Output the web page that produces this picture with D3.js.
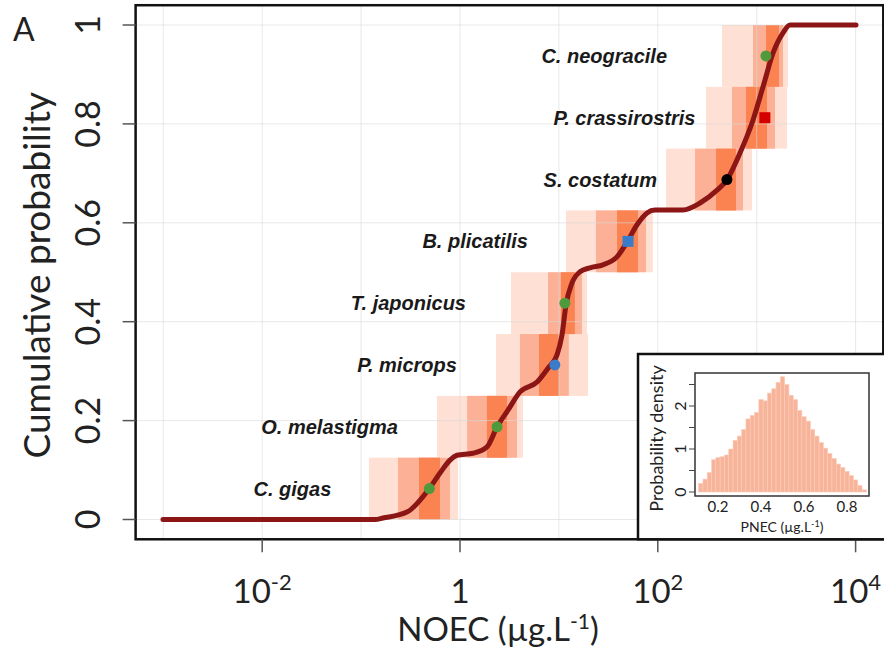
<!DOCTYPE html>
<html><head><meta charset="utf-8">
<script src="https://cdn.jsdelivr.net/npm/d3@7"></script>
<style>body{margin:0;background:#fff} svg{display:block}</style>
</head><body><svg id="c" width="884" height="650"></svg>
<script>
// ---------- data ----------
const species = ["C. gigas","O. melastigma","P. microps","T. japonicus","B. plicatilis","S. costatum","P. crassirostris","C. neogracile"];
const noec = [0.49, 2.37, 9.1, 11.5, 50, 500, 1210, 1240];
const cumProb = [0.0625, 0.1875, 0.3125, 0.4375, 0.5625, 0.6875, 0.8125, 0.9375];
const markerShape = ["circle","circle","circle","circle","square","circle","square","circle"];
const markerColor = ["#4f9a3c","#4f9a3c","#3a7cc9","#4f9a3c","#3a7cc9","#000000","#d40000","#4f9a3c"];
// nested intervals around each species (outer / middle / inner), NOEC units
const ciOuter = [[0.12,0.955],[0.585,4.34],[2.31,19.7],[3.28,19.2],[11.8,89],[121,896],[307,2024],[446,2073]];
const ciMiddle = [[0.236,0.792],[1.18,3.77],[4.04,12.6],[7.76,17.1],[23.7,76],[238,727],[563,1531],[918,1845]];
const ciInner = [[0.385,0.628],[1.87,2.99],[6.29,10.0],[10.5,14.5],[38.7,63],[388,617],[780,1271],[1242,1680]];
// label end anchors (NOEC units)
const labelNoec = [0.05, 0.236, 0.93, 1.15, 4.87, 98, 240, 124];
// fitted SSD curve
const curveLog10 = [-3.003,-0.859,-0.779,-0.536,-0.313,-0.202,-0.101,-0.030,0.131,0.273,0.374,0.485,0.607,0.779,0.890,0.981,1.031,1.072,1.132,1.213,1.314,1.446,1.587,1.689,1.790,1.891,1.972,2.255,2.427,2.599,2.700,2.831,2.963,3.064,3.165,3.266,3.337,4.004];
const curveProb  = [0,0,0.003,0.015,0.062,0.094,0.120,0.130,0.134,0.147,0.187,0.221,0.258,0.278,0.306,0.333,0.373,0.434,0.478,0.501,0.509,0.515,0.531,0.561,0.596,0.620,0.626,0.626,0.640,0.666,0.687,0.741,0.808,0.875,0.943,0.984,1.0,1.0];
const xTickExp = [-2, 0, 2, 4];
const xGridExp = [-3,-2,-1,0,1,2,3,4];
const yTicks = [0, 0.2, 0.4, 0.6, 0.8, 1];
// inset histogram of PNEC
const pnecBinLower = [0.11,0.13,0.15,0.17,0.19,0.21,0.23,0.25,0.27,0.29,0.31,0.33,0.35,0.37,0.39,0.41,0.43,0.45,0.47,0.49,0.51,0.53,0.55,0.57,0.59,0.61,0.63,0.65,0.67,0.69,0.71,0.73,0.75,0.77,0.79,0.81,0.83,0.85,0.87];
const pnecDensity  = [0.2,0.3,0.45,0.75,0.8,0.82,0.86,1.0,1.2,1.3,1.45,1.7,1.78,1.85,2.15,2.12,2.3,2.4,2.55,2.68,2.5,2.25,2.15,1.9,1.75,1.65,1.45,1.3,1.15,1.02,0.9,0.78,0.65,0.57,0.48,0.38,0.28,0.15,0.05];
const pnecBinWidth = 0.02;
const pnecXTicks = [0.2, 0.4, 0.6, 0.8];
const pnecYTicks = [0, 0.5, 1, 1.5, 2, 2.5];
const pnecYLabels = [0, 1, 2];

// ---------- layout ----------
const svg = d3.select("#c");
const x = d3.scaleLog().domain([1e-3, 1e4]).range([163.3, 855.6]);
const y = d3.scaleLinear().domain([0, 1]).range([519.5, 25]);
const padX = 0.04 * (x.range()[1] - x.range()[0]);
const padY = 0.04 * (y.range()[0] - y.range()[1]);
const L = x.range()[0] - padX, R = x.range()[1] + padX;
const T = y.range()[1] - padY, B = y.range()[0] + padY;
const FONT = "Lato, 'Open Sans', sans-serif";

const plot = svg.append("g");
plot.append("defs").append("clipPath").attr("id","clip")
  .append("rect").attr("x",L).attr("y",T).attr("width",R-L).attr("height",B-T);
const inner = plot.append("g").attr("clip-path","url(#clip)");

// boxes
const half = 0.5 / species.length;
const layers = [[ciOuter,"#fee0d4"],[ciMiddle,"#fcb196"],[ciInner,"#fa8351"]];
layers.forEach(([ci, col]) => {
  inner.selectAll(null).data(ci).join("rect")
    .attr("x", d => x(d[0]))
    .attr("width", d => x(d[1]) - x(d[0]))
    .attr("y", (d,i) => y(cumProb[i] + half))
    .attr("height", (d,i) => y(cumProb[i] - half) - y(cumProb[i] + half))
    .attr("fill", col);
});

// grid
inner.selectAll(null).data(xGridExp).join("line")
  .attr("x1", d => x(Math.pow(10,d))).attr("x2", d => x(Math.pow(10,d)))
  .attr("y1", T).attr("y2", B)
  .attr("stroke", "#d9d9d9").attr("stroke-opacity", 0.6).attr("stroke-width", 1);
inner.selectAll(null).data(yTicks).join("line")
  .attr("x1", L).attr("x2", R)
  .attr("y1", d => y(d)).attr("y2", d => y(d))
  .attr("stroke", "#d9d9d9").attr("stroke-opacity", 0.6).attr("stroke-width", 1);

// curve
const curvePts = curveLog10.map((e,i) => [Math.pow(10,e), curveProb[i]]);
inner.append("path")
  .attr("d", d3.line().x(d => x(d[0])).y(d => y(d[1])).curve(d3.curveMonotoneX)(curvePts))
  .attr("fill","none").attr("stroke","#8c1616").attr("stroke-width",5)
  .attr("stroke-linecap","round");

// markers
species.forEach((s,i) => {
  const cx = x(noec[i]), cy = y(cumProb[i]);
  if (markerShape[i] === "square") {
    inner.append("rect").attr("x", cx-5.5).attr("y", cy-5.5).attr("width",11).attr("height",11)
      .attr("fill", markerColor[i]);
  } else {
    inner.append("circle").attr("cx",cx).attr("cy",cy).attr("r",5.5).attr("fill",markerColor[i]);
  }
});

// species labels
plot.selectAll(null).data(species).join("text")
  .attr("x", (d,i) => x(labelNoec[i]))
  .attr("y", (d,i) => y(cumProb[i]))
  .attr("dy","0.35em")
  .attr("text-anchor","end")
  .attr("font-family","'Liberation Sans', Arial, sans-serif")
  .attr("font-weight","bold").attr("font-style","italic")
  .attr("font-size",20).attr("fill","#1a1a1a")
  .text(d => d);

// frame
plot.append("rect").attr("x",L).attr("y",T).attr("width",R-L).attr("height",B-T)
  .attr("fill","none").attr("stroke","#111").attr("stroke-width",2.5);

// y axis ticks and labels
plot.selectAll(null).data(yTicks).join("line")
  .attr("x1", L-13).attr("x2", L).attr("y1", d=>y(d)).attr("y2", d=>y(d))
  .attr("stroke","#555").attr("stroke-width",1.5);
plot.selectAll(null).data(yTicks).join("text")
  .attr("transform", d => `translate(100,${y(d)}) rotate(-90)`)
  .attr("text-anchor","middle")
  .attr("font-family",FONT).attr("font-size",34).attr("fill","#222")
  .text(d => d3.format("~g")(d));

// x axis ticks and labels
plot.selectAll(null).data(xTickExp).join("line")
  .attr("x1", d=>x(Math.pow(10,d))).attr("x2", d=>x(Math.pow(10,d)))
  .attr("y1", B).attr("y2", B+13)
  .attr("stroke","#555").attr("stroke-width",1.5);
xTickExp.forEach(e => {
  const t = plot.append("text")
    .attr("x", x(Math.pow(10,e))).attr("y", 603)
    .attr("text-anchor","middle")
    .attr("font-family",FONT).attr("font-size",33).attr("fill","#222");
  if (e === 0) { t.text("1"); }
  else {
    t.append("tspan").text("10");
    t.append("tspan").attr("dy",-13).attr("font-size",22).text(String(e));
  }
});

// axis titles
const xt = plot.append("text").attr("x", 498).attr("y", 641)
  .attr("text-anchor","middle").attr("font-family",FONT).attr("font-size",33).attr("fill","#222");
xt.append("tspan").text("NOEC (µg.L");
xt.append("tspan").attr("dy",-12).attr("font-size",21).text("-1");
xt.append("tspan").attr("dy",12).text(")");

plot.append("text").attr("transform", `translate(50,${(T+B)/2 + 3}) rotate(-90)`)
  .attr("text-anchor","middle").attr("font-family",FONT).attr("font-size",37).attr("fill","#222")
  .text("Cumulative probability");

plot.append("text").attr("x",13).attr("y",41)
  .attr("font-family",FONT).attr("font-size",32).attr("fill","#222").text("A");

// ---------- inset ----------
const inset = svg.append("g");
inset.append("rect").attr("x",638).attr("y",354).attr("width",260).attr("height",B-354)
  .attr("fill","#fff").attr("stroke","#111").attr("stroke-width",2.5);
const hx = d3.scaleLinear().domain([0.2, 0.8]).range([718, 847]);
const hy = d3.scaleLinear().domain([0, 2]).range([492, 406]);
const hL = 695, hR = 869, hT = 373, hB = 496;
inset.selectAll(null).data(pnecDensity).join("rect")
  .attr("x", (d,i) => hx(pnecBinLower[i]))
  .attr("width", hx(pnecBinWidth) - hx(0))
  .attr("y", d => hy(d))
  .attr("height", d => hy(0) - hy(d))
  .attr("fill","#f7b49b")
  .attr("stroke","#fbcdb9").attr("stroke-width",0.6);
inset.append("rect").attr("x",hL).attr("y",hT).attr("width",hR-hL).attr("height",hB-hT)
  .attr("fill","none").attr("stroke","#333").attr("stroke-width",1.5);
inset.selectAll(null).data(pnecYTicks).join("line")
  .attr("x1",hL-6).attr("x2",hL).attr("y1",d=>hy(d)).attr("y2",d=>hy(d))
  .attr("stroke","#444").attr("stroke-width",1);
inset.selectAll(null).data(pnecYLabels).join("text")
  .attr("transform", d => `translate(686,${hy(d)}) rotate(-90)`)
  .attr("text-anchor","middle").attr("font-family",FONT).attr("font-size",16).attr("fill","#222")
  .text(d => d);
inset.selectAll(null).data(pnecXTicks).join("text")
  .attr("x", d => hx(d)).attr("y", 512)
  .attr("text-anchor","middle").attr("font-family",FONT).attr("font-size",15).attr("fill","#222")
  .text(d => d3.format(".1f")(d));
const pt = inset.append("text").attr("x",(hL+hR)/2).attr("y",532)
  .attr("text-anchor","middle").attr("font-family",FONT).attr("font-size",14).attr("fill","#222");
pt.append("tspan").text("PNEC (µg.L");
pt.append("tspan").attr("dy",-5).attr("font-size",9).text("-1");
pt.append("tspan").attr("dy",5).text(")");
inset.append("text").attr("transform", `translate(663,${(hT+hB)/2 + 4}) rotate(-90)`)
  .attr("text-anchor","middle").attr("font-family",FONT).attr("font-size",18).attr("fill","#222")
  .text("Probability density");
</script></body></html>
